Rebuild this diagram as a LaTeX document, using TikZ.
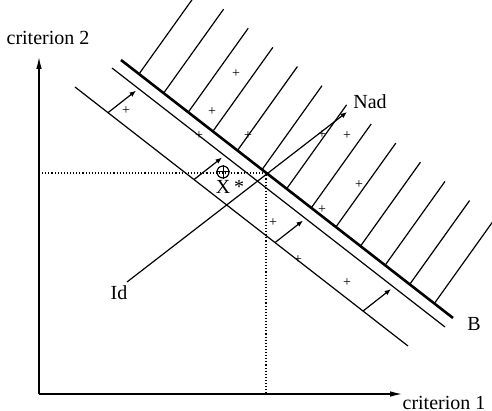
\documentclass[tikz,border=0pt]{standalone}
\usepackage{fontspec}
\setmainfont{Liberation Serif}
\usetikzlibrary{arrows.meta}
\tikzset{
  axis/.style={-{Latex[length=6pt,width=2.8pt]}, line width=0.6pt},
  guide/.style={densely dotted, line width=0.55pt},
  front/.style={line width=1.3pt},
  level/.style={line width=0.6pt},
  hatch/.style={line width=0.6pt},
  move/.style={-{Latex[length=3.2pt,width=2.6pt]}, line width=0.6pt},
  pt/.style={inner sep=0pt, font=\scriptsize},
  lbl/.style={inner sep=1pt, font=\normalsize},
}

\begin{document}
\begin{tikzpicture}[x=0.5pt, y=-0.5pt]
    \clip (0,0) rectangle (492,411);
    % axes
    \coordinate (O) at (39,394);
    \coordinate (ytop) at (39,57);
    \coordinate (xend) at (402,394);
    \draw[axis] (O) -- (ytop);
    \draw[axis] (O) -- (xend);
    \node[lbl] (c2) at (48,38) {criterion 2};
    \node[lbl] (c1) at (444,403) {criterion 1};
    % frontier B and the dominated side
    \coordinate (B0) at (121,60);
    \coordinate (B1) at (453,318);
    \draw[front] (B0) -- (B1);
    \node[lbl] (Blbl) at (474,324) {B};
    \foreach \i in {0,...,12}{
      \pgfmathsetmacro{\bx}{139+24.6*\i}
      \pgfmathsetmacro{\by}{60+(\bx-121)*0.778}
      \draw[hatch] (\bx,\by) -- ++(60,-84);
    }
    % two level lines, pushed towards B
    \coordinate (L2a) at (112,68);
    \coordinate (L2b) at (445,327);
    \coordinate (L3a) at (75,87);
    \coordinate (L3b) at (408,346);
    \draw[level] (L2a) -- (L2b);
    \draw[level] (L3a) -- (L3b);
    \foreach \ax in {108,194,275,363}{
      \pgfmathsetmacro{\ay}{87+(\ax-75)*0.778}
      \draw[move] (\ax,\ay) -- ++(28,-22);
    }
    % sample points
    \foreach \p in {(126,111),(236,74),(212,112),(199,136),(248,136),(322,135),
                    (347,136),(359,185),(322,210),(273,223),(298,260),(347,283)}
      \node[pt] at \p {+};
    % solution X* and the ideal -> nadir direction
    \coordinate (Xs) at (266,173);
    \coordinate (Xy) at (39,173);
    \coordinate (Xx) at (266,394);
    \draw[guide] (Xy) -- (Xs) -- (Xx);
    \coordinate (Id) at (127,282);
    \coordinate (Nad) at (347,112);
    \draw[move] (Id) -- (Nad);
    \node[lbl] (Idlbl) at (119,293) {Id};
    \node[lbl] (Nadlbl) at (370,102) {Nad};
    \node[circle, draw, line width=0.6pt, inner sep=0pt, minimum size=6pt] (xo) at (223,172) {};
    \draw[line width=0.5pt] (xo.north) -- (xo.south) (xo.west) -- (xo.east);
    \node[lbl, anchor=base] (xlbl) at (230,194) {X\hspace{2pt}*};
\end{tikzpicture}
\end{document}
